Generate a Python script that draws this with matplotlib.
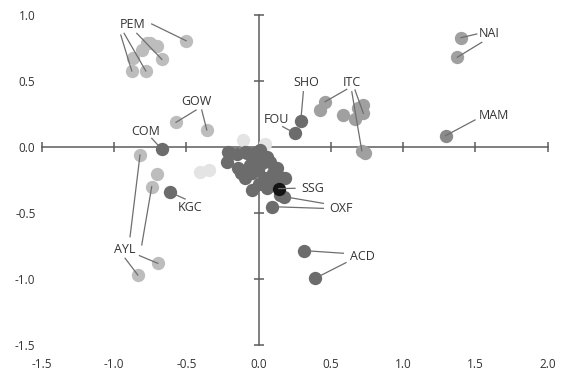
import matplotlib
matplotlib.use("Agg")
import matplotlib.pyplot as plt

plt.rcParams['font.family'] = ['Open Sans', 'DejaVu Sans']

# 目盛り
x_ticks = [-1.5, -1.0, -0.5, 0.0, 0.5, 1.0, 1.5, 2.0]
y_ticks = [-1.5, -1.0, -0.5, 0.0, 0.5, 1.0]
x_tick_labels = ["-1.5", "-1.0", "-0.5", "0.0", "0.5", "1.0", "1.5", "2.0"]
y_tick_labels = ["-1.5", "-1.0", "-0.5", "0.0", "0.5", "1.0"]

# ラベル付きの点
pem_x = [-0.501, -0.669, -0.780, -0.877, -0.866, -0.808, -0.750, -0.704, -0.773]
pem_y = [0.805, 0.664, 0.576, 0.576, 0.672, 0.735, 0.790, 0.765, 0.786]
gow_x = [-0.571, -0.358]
gow_y = [0.187, 0.129]
com_x = [-0.669]
com_y = [-0.018]
ayl_x = [-0.820, -0.739, -0.835, -0.697]
ayl_y = [-0.061, -0.300, -0.970, -0.881]
kgc_x = [-0.612]
kgc_y = [-0.343]
sho_x = [0.292]
sho_y = [0.199]
fou_x = [0.252]
fou_y = [0.104]
itc_x = [0.460, 0.425, 0.586, 0.667, 0.725, 0.725, 0.690, 0.714, 0.737]
itc_y = [0.343, 0.280, 0.242, 0.210, 0.318, 0.255, 0.293, -0.028, -0.048]
nai_x = [1.400, 1.375]
nai_y = [0.828, 0.680]
mam_x = [1.294]
mam_y = [0.086]
ssg_x = [0.140]
ssg_y = [-0.315]
oxf_x = [0.176, 0.149, 0.091]
oxf_y = [-0.376, -0.366, -0.452]
acd_x = [0.315, 0.391]
acd_y = [-0.785, -0.995]

# ラベルなしの点
other_light_x = [-0.704]
other_light_y = [-0.205]
faint_x = [-0.405, -0.340, -0.105, 0.045]
faint_y = [-0.187, -0.174, 0.053, 0.023]
cluster_x = [-0.209, -0.220, -0.197, -0.093, -0.082, -0.024, -0.036, -0.059, 0.022, 0.080, 0.057,
             0.010, 0.126, 0.183, 0.149, -0.093, -0.047, -0.047, 0.045, 0.057, -0.001, -0.142,
             -0.150, 0.100, 0.000, -0.120, 0.110]
cluster_y = [-0.036, -0.111, -0.048, -0.036, -0.048, -0.048, -0.098, -0.136, -0.123, -0.111, -0.073,
             -0.023, -0.161, -0.237, -0.225, -0.237, -0.200, -0.326, -0.237, -0.313, -0.174, -0.159,
             -0.050, -0.200, -0.280, -0.200, -0.270]

# 色
faint = "#e4e4e4"
light = "#bdbdbd"
mid = "#a0a0a0"
mid_dark = "#8a8a8a"
dark = "#6c6c6c"
black = "#141414"
axis_color = "#5c5c5c"
leader_color = "#6e6e6e"
text_color = "#333333"

# (名前, x, y, 色, ラベル位置, [(線の始点x, 始点y, 点番号)])
groups = [
    ("PEM", pem_x, pem_y, light, (-0.87, 0.93),
     [(-0.739, 0.932, 0), (-0.953, 0.848, 3), (-0.930, 0.861, 2), (-0.842, 0.861, 1)]),
    ("GOW", gow_x, gow_y, light, (-0.427, 0.343), [(-0.432, 0.28, 0), (-0.393, 0.28, 1)]),
    ("AYL", ayl_x, ayl_y, light, (-0.923, -0.78),
     [(-0.889, -0.68, 0), (-0.808, -0.742, 1), (-0.923, -0.843, 2), (-0.824, -0.823, 3)]),
    ("ITC", itc_x, itc_y, mid, (0.645, 0.487),
     [(0.61, 0.437, 0), (0.645, 0.419, 7), (0.667, 0.432, 5)]),
    ("NAI", nai_x, nai_y, mid, (1.596, 0.861), [(1.509, 0.856, 0), (1.544, 0.793, 1)]),
    ("MAM", mam_x, mam_y, mid_dark, (1.629, 0.242), [(1.497, 0.205, 0)]),
    ("COM", com_x, com_y, dark, (-0.78, 0.121), [(-0.739, 0.066, 0)]),
    ("KGC", kgc_x, kgc_y, dark, (-0.474, -0.46), [(-0.508, -0.394, 0)]),
    ("SHO", sho_x, sho_y, dark, (0.333, 0.487), [(0.31, 0.419, 0)]),
    ("FOU", fou_x, fou_y, dark, (0.126, 0.21), [(0.167, 0.154, 0)]),
    ("OXF", oxf_x, oxf_y, dark, (0.571, -0.465), [(0.448, -0.427, 0), (0.448, -0.465, 2)]),
    ("ACD", acd_x, acd_y, dark, (0.72, -0.831), [(0.587, -0.805, 0), (0.605, -0.876, 1)]),
    ("SSG", ssg_x, ssg_y, black, (0.375, -0.318), [(0.252, -0.313, 0)]),
]

fig = plt.figure(figsize=(5.68, 3.70), dpi=100)
ax = fig.add_axes([41.7 / 568, 25 / 370, 506 / 568, 330 / 370])
ax.set_xlim(-1.5, 2.0)
ax.set_ylim(-1.5, 1.0)
for s in ax.spines.values():
    s.set_visible(False)

# 目盛りラベル
ax.set_xticks(x_ticks)
ax.set_xticklabels(x_tick_labels)
ax.set_yticks(y_ticks)
ax.set_yticklabels(y_tick_labels)
ax.tick_params(axis='x', length=0, pad=9.5, labelsize=8.5, labelcolor=text_color)
ax.tick_params(axis='y', length=0, pad=4.5, labelsize=8.5, labelcolor=text_color)

# 十字の軸
ax.plot([x_ticks[0], x_ticks[-1]], [0, 0], color=axis_color, lw=1.1, zorder=1, clip_on=False)
ax.plot([0, 0], [y_ticks[0], y_ticks[-1]], color=axis_color, lw=1.1, zorder=1, clip_on=False)
xt = [t for t in x_ticks if t != 0]
yt = [t for t in y_ticks if t != 0]
ax.plot(xt, [0] * len(xt), ls='none', marker='|', ms=7, mew=1.1, color=axis_color, zorder=1, clip_on=False)
ax.plot([0] * len(yt), yt, ls='none', marker='_', ms=7, mew=1.1, color=axis_color, zorder=1, clip_on=False)

ms = 92
ax.scatter(faint_x, faint_y, s=ms, color=faint, linewidths=0, zorder=2)
ax.scatter(other_light_x, other_light_y, s=ms, color=light, linewidths=0, zorder=3)
ax.scatter(cluster_x, cluster_y, s=ms, color=dark, linewidths=0, zorder=3)

for name, gx, gy, col, (tx, ty), leaders in groups:
    ax.scatter(gx, gy, s=ms, color=col, linewidths=0, zorder=3, clip_on=False)
    ax.text(tx, ty, name, ha='center', va='center', fontsize=9, color=text_color, zorder=5)
    for sx, sy, i in leaders:
        ax.plot([sx, gx[i]], [sy, gy[i]], color=leader_color, lw=0.9, zorder=4)

plt.savefig("out.png", dpi=100)
